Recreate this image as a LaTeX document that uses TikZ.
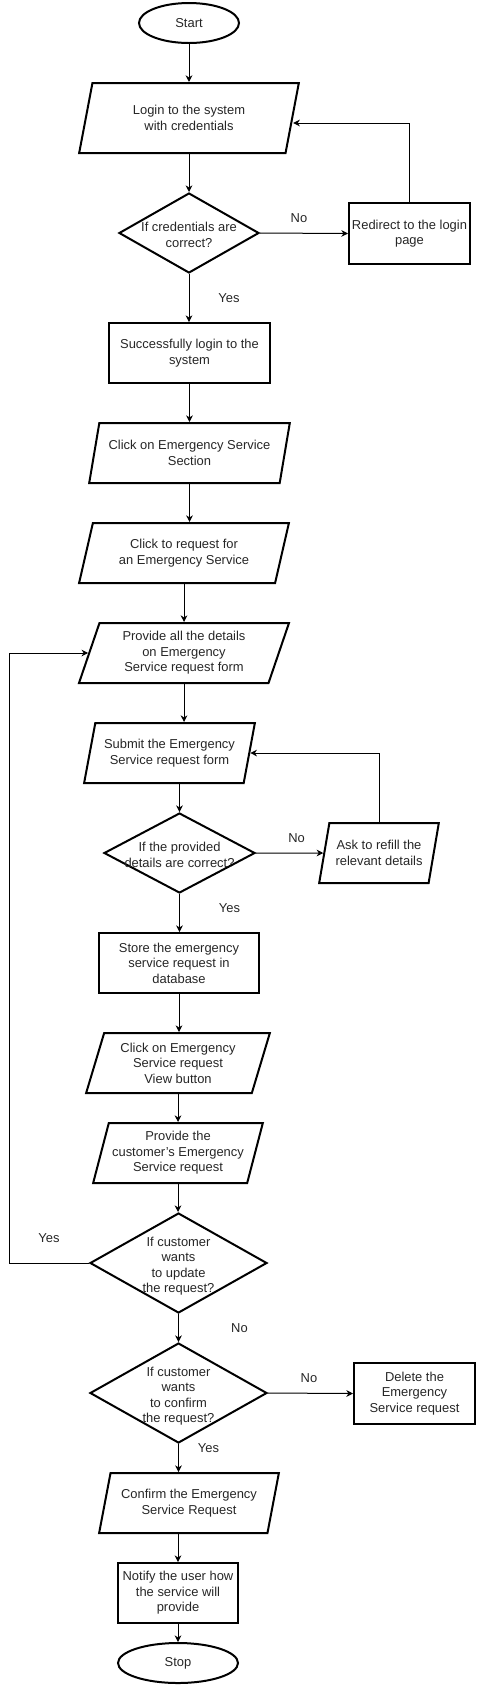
\documentclass[tikz,border=0pt]{standalone}
\usepackage{fontspec}
\setmainfont{Liberation Sans}
\usetikzlibrary{shapes.geometric,arrows.meta}

\definecolor{txtc}{HTML}{262626}
\newcommand*{\px}{0.75pt}
\newcommand*{\dtext}[1]{\makebox[0pt]{\raisebox{-5pt}[0pt][0pt]{\begin{tabular}{@{}c@{}}#1\end{tabular}}}}

\begin{document}
\begin{tikzpicture}
[
	x=\px,
	y=-\px,
	every node/.style={font=\fontsize{9.7}{11.6}\selectfont, text=txtc},
	terminal/.style={ellipse,draw,line width=1.5pt,inner sep=0pt},
	procbox/.style={rectangle,draw,line width=1.5pt,inner sep=1pt,align=center},
	iobox/.style={trapezium,trapezium left angle=71.57,trapezium right angle=108.43,
		trapezium stretches=true,draw,line width=1.5pt,inner sep=1pt,align=center,
		minimum height=60*\px},
	decision/.style={diamond,draw,line width=1.5pt,inner sep=0pt},
	flow/.style={-{Stealth[length=5pt,width=5pt,inset=1.6pt]},line width=0.75pt},
	lbl/.style={inner sep=0pt}
]

	\useasboundingbox (0,0) rectangle (478,1686);

	% main column
	\node[terminal, minimum width=100*\px, minimum height=40*\px] (start) at (189,23) {Start};
	\node[iobox, trapezium left angle=74.05, trapezium right angle=105.95,
		minimum width=220*\px, minimum height=70*\px] (login) at (189,118)
		{Login to the system\\with credentials};
	\node[decision, minimum width=140*\px, minimum height=80*\px] (credchk) at (189,233)
		{\dtext{If credentials are\\correct?}};
	\node[procbox, minimum width=161*\px, minimum height=60*\px] (loggedin) at (189.5,353)
		{Successfully login to the\\system};
	\node[iobox, minimum width=201*\px] (section) at (189.5,453)
		{Click on Emergency Service\\Section};
	\node[iobox, minimum width=210*\px] (request) at (184,553)
		{Click to request for\\an Emergency Service};
	\node[iobox, minimum width=210*\px] (details) at (184,653)
		{Provide all the details\\on Emergency\\Service request form};
	\node[iobox, minimum width=171*\px] (submit) at (169.5,753)
		{Submit the Emergency\\Service request form};
	\node[decision, minimum width=151*\px, minimum height=80*\px] (detchk) at (179.5,853)
		{\dtext{If the provided\\details are correct?}};
	\node[procbox, minimum width=160*\px, minimum height=60*\px] (store) at (179,963)
		{Store the emergency\\service request in\\database};
	\node[iobox, minimum width=184*\px] (viewbtn) at (178,1063)
		{Click on Emergency\\Service request\\View button};
	\node[iobox, minimum width=170*\px] (custreq) at (178,1153)
		{Provide the\\customer's Emergency\\Service request};
	\node[decision, minimum width=177*\px, minimum height=100*\px] (updchk) at (178.5,1263)
		{\dtext{If customer\\wants\\to update\\the request?}};
	\node[decision, minimum width=177*\px, minimum height=100*\px] (confchk) at (178.5,1393)
		{\dtext{If customer\\wants\\to confirm\\the request?}};
	\node[iobox, minimum width=180*\px] (confirm) at (189,1503)
		{Confirm the Emergency\\Service Request};
	\node[procbox, minimum width=120*\px, minimum height=60*\px] (notify) at (178,1593)
		{Notify the user how\\the service will\\provide};
	\node[terminal, minimum width=120*\px, minimum height=40*\px] (stop) at (178,1663) {Stop};

	% side boxes
	\node[procbox, minimum width=121*\px, minimum height=61*\px] (redirect) at (409.5,233.5)
		{Redirect to the login\\page};
	\node[iobox, minimum width=120*\px] (refill) at (379,853)
		{Ask to refill the\\relevant details};
	\node[procbox, minimum width=121*\px, minimum height=61*\px] (delete) at (414.5,1393.5)
		{Delete the\\Emergency\\Service request};

	% connectors
	\draw[flow] (start.south) -- (start.south |- login.north);
	\draw[flow] (login.south) -- (login.south |- credchk.north);
	\draw[flow] (credchk.east) -- node[lbl, midway, xshift=-5*\px, yshift=15*\px] {No} (redirect.west);
	\draw[flow] (credchk.south) -- node[lbl, midway, xshift=40*\px] {Yes} (credchk.south |- loggedin.north);
	\draw[flow] (loggedin.south) -- (loggedin.south |- section.north);
	\draw[flow] (section.south) -- (section.south |- request.north);
	\draw[flow] (request.south) -- (request.south |- details.north);
	\draw[flow] (details.south) -- (details.south |- submit.north);
	\draw[flow] (detchk.north |- submit.south) -- (detchk.north);
	\draw[flow] (detchk.east) -- node[lbl, midway, xshift=7*\px, yshift=15*\px] {No} (refill.west);
	\draw[flow] (detchk.south) -- node[lbl, midway, xshift=50*\px, yshift=5*\px] {Yes} (detchk.south |- store.north);
	\draw[flow] (store.south) -- (store.south |- viewbtn.north);
	\draw[flow] (viewbtn.south) -- (viewbtn.south |- custreq.north);
	\draw[flow] (custreq.south) -- (custreq.south |- updchk.north);
	\draw[flow] (updchk.south) -- node[lbl, midway, xshift=61*\px] {No} (updchk.south |- confchk.north);
	\draw[flow] (confchk.east) -- node[lbl, midway, xshift=-1.5*\px, yshift=15*\px] {No} (delete.west);
	\draw[flow] (confchk.south) -- node[lbl, midway, xshift=30*\px, yshift=10*\px] {Yes} (confchk.south |- confirm.north);
	\draw[flow] (notify.north |- confirm.south) -- (notify.north);
	\draw[flow] (notify.south) -- (notify.south |- stop.north);

	% loops back
	\draw[flow] (redirect.north) |- ([yshift=-5*\px]login.east);
	\draw[flow] (refill.north) |- (submit.east);
	\coordinate (backl) at (9,1263);
	\draw[flow] (updchk.west) -- node[lbl, midway, yshift=25*\px] {Yes} (backl) |- (details.west);

\end{tikzpicture}
\end{document}
